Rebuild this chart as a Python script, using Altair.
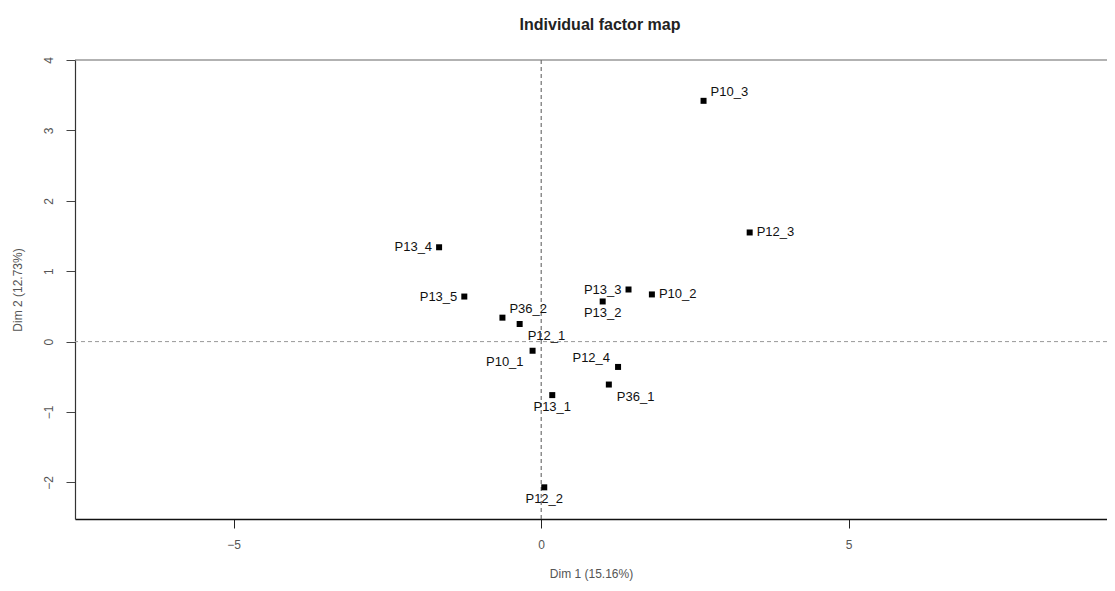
import altair as alt
import pandas as pd

names = ["P10_1", "P10_2", "P10_3", "P12_1", "P12_2", "P12_3", "P12_4",
         "P13_1", "P13_2", "P13_3", "P13_4", "P13_5", "P36_1", "P36_2"]
dim1 = [-0.14, 1.80, 2.64, -0.35, 0.05, 3.39, 1.25,
        0.18, 1.00, 1.42, -1.66, -1.25, 1.10, -0.63]
dim2 = [-0.13, 0.67, 3.42, 0.25, -2.07, 1.55, -0.36,
        -0.76, 0.57, 0.74, 1.34, 0.64, -0.61, 0.34]
placement = ["downleft", "right", "upright", "downright", "below", "right", "upleft",
             "below", "below", "left", "left", "left", "downright", "upright"]

x_ticks = [-5, 0, 5]
y_ticks = [-2, -1, 0, 1, 2, 3, 4]
x_domain = [-7.58, 9.20]
y_domain = [-2.52, 4.0]

W, H = 1032, 459
FONT = "Liberation Sans"

df = pd.DataFrame({"name": names, "dim1": dim1, "dim2": dim2, "place": placement})

xs = alt.Scale(domain=x_domain, nice=False, zero=False)
ys = alt.Scale(domain=y_domain, nice=False, zero=False)

x_axis = alt.Axis(values=x_ticks, format="d", grid=False, tickSize=9, tickColor="#222",
                  domainColor="#111", domainWidth=1.6, labelColor="#555",
                  labelFontSize=12, labelFont=FONT, labelPadding=11,
                  title="Dim 1 (15.16%)", titleFont=FONT, titleFontSize=12,
                  titleFontWeight="normal", titleColor="#555", titlePadding=18)
y_axis = alt.Axis(values=y_ticks, format="d", grid=False, tickSize=9, tickColor="#444",
                  domainColor="#333", domainWidth=1.2, labelColor="#555",
                  labelFontSize=12, labelFont=FONT, labelAngle=270, labelPadding=11,
                  title="Dim 2 (12.73%)", titleFont=FONT, titleFontSize=12,
                  titleFontWeight="normal", titleColor="#555", titlePadding=18)

base = alt.Chart(df)

points = base.mark_square(size=36, color="black", opacity=1).encode(
    x=alt.X("dim1:Q", scale=xs, axis=x_axis),
    y=alt.Y("dim2:Q", scale=ys, axis=y_axis),
)

offsets = {
    "left": dict(align="right", dx=-7, dy=0),
    "right": dict(align="left", dx=7, dy=0),
    "below": dict(align="center", dx=0, dy=12),
    "upright": dict(align="left", dx=7, dy=-9),
    "downright": dict(align="left", dx=8, dy=12),
    "downleft": dict(align="right", dx=-9, dy=11),
    "upleft": dict(align="right", dx=-8, dy=-9),
}

label_layers = []
for key, o in offsets.items():
    label_layers.append(
        base.transform_filter(alt.datum.place == key).mark_text(
            font=FONT, fontSize=13, fontWeight=500, color="#111", baseline="middle", **o
        ).encode(x=alt.X("dim1:Q", scale=xs), y=alt.Y("dim2:Q", scale=ys), text="name:N")
    )

zero_df = pd.DataFrame({"zero": [0]})
vline = alt.Chart(zero_df).mark_rule(strokeDash=[4, 3], color="#555", strokeWidth=1).encode(
    x=alt.X("zero:Q", scale=xs))
hline = alt.Chart(zero_df).mark_rule(strokeDash=[4, 3], color="#999", strokeWidth=1).encode(
    y=alt.Y("zero:Q", scale=ys))
top_border = alt.Chart(zero_df).mark_rule(color="#666", strokeWidth=1.2).encode(
    x=alt.value(0), x2=alt.value(W), y=alt.value(0))

chart = alt.layer(vline, hline, top_border, points, *label_layers).properties(
    width=W, height=H,
    autosize="none",
    padding={"left": 67, "top": 52, "right": 0, "bottom": 64},
    title=alt.TitleParams("Individual factor map", font=FONT, fontSize=16,
                          fontWeight="bold", color="#222", anchor="middle",
                          frame="group", offset=24, dx=9),
).configure_view(stroke=None)

chart.save("out.html", embed_options={"renderer": "svg", "actions": False})
